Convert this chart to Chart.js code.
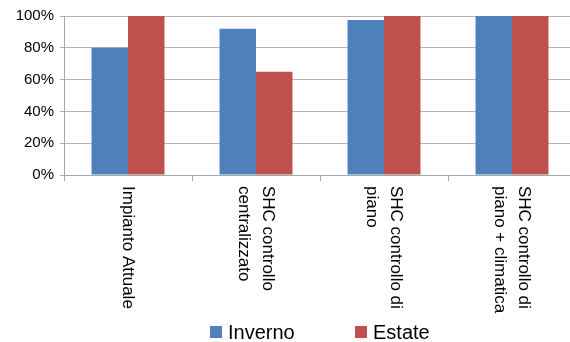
<!DOCTYPE html>
<html>
<head>
<meta charset="utf-8">
<script src="https://cdn.jsdelivr.net/npm/chart.js@4/dist/chart.umd.min.js"></script>
<style>
  html, body { margin: 0; padding: 0; background: #fff; overflow: hidden; }
  #wrap { width: 576px; height: 342px; }
</style>
</head>
<body>
<div id="wrap"><canvas id="c" width="576" height="342"></canvas></div>
<script>
const categories = [
  ["Impianto Attuale"],
  ["SHC controllo", "centralizzato"],
  ["SHC controllo di", "piano"],
  ["SHC controllo di", "piano + climatica"]
];
const seriesNames = ["Inverno", "Estate"];
const inverno = [0.80, 0.92, 0.975, 1.00];
const estate = [1.00, 0.65, 1.00, 1.00];
const yTicks = [0, 0.2, 0.4, 0.6, 0.8, 1.0];
const colors = ["#4F81BD", "#C0504D"];

const FONT = "'Liberation Sans', Arial, sans-serif";

const rotatedLabels = {
  id: 'rotatedLabels',
  afterDraw(chart) {
    const ctx = chart.ctx;
    const xs = chart.scales.x;
    const startY = 186;
    const lh = 24;
    ctx.save();
    ctx.fillStyle = '#000';
    ctx.font = "17px " + FONT;
    ctx.textAlign = 'left';
    ctx.textBaseline = 'middle';
    chart.data.labels.forEach((lines, i) => {
      const x = xs.getPixelForValue(i);
      ctx.save();
      ctx.translate(x, startY);
      ctx.rotate(Math.PI / 2);
      const n = lines.length;
      lines.forEach((ln, j) => {
        const ly = -((n - 1) / 2) * lh + j * lh;
        ctx.fillText(ln, 0, ly);
      });
      ctx.restore();
    });
    ctx.restore();
  }
};

const customLegend = {
  id: 'customLegend',
  afterDraw(chart) {
    const ctx = chart.ctx;
    const items = chart.data.datasets;
    const positions = [210, 355];
    const cy = 332;
    ctx.save();
    ctx.font = "20px " + FONT;
    ctx.textBaseline = 'middle';
    ctx.textAlign = 'left';
    items.forEach((ds, i) => {
      const x = positions[i];
      ctx.fillStyle = ds.backgroundColor;
      ctx.fillRect(x, cy - 6, 12, 12);
      ctx.fillStyle = '#000';
      ctx.fillText(ds.label, x + 18, cy + 1);
    });
    ctx.restore();
  }
};

new Chart(document.getElementById('c'), {
  type: 'bar',
  data: {
    labels: categories,
    datasets: [
      { label: seriesNames[0], data: inverno, backgroundColor: colors[0], categoryPercentage: 0.57, barPercentage: 1.0 },
      { label: seriesNames[1], data: estate, backgroundColor: colors[1], categoryPercentage: 0.57, barPercentage: 1.0 }
    ]
  },
  options: {
    responsive: false,
    animation: false,
    layout: { padding: { top: 16, right: 0, bottom: 0, left: 0 } },
    plugins: { legend: { display: false }, tooltip: { enabled: false } },
    scales: {
      x: {
        afterFit(scale) { scale.height = 167; },
        ticks: { display: false },
        grid: { drawOnChartArea: false, drawTicks: true, tickLength: 6, offset: true, color: '#A6A6A6' },
        border: { color: '#A6A6A6' }
      },
      y: {
        min: 0, max: 1,
        afterFit(scale) { scale.width = 64; },
        ticks: {
          stepSize: 0.1,
          padding: 6,
          color: '#000',
          font: { size: 15, family: FONT },
          callback(v) {
            const r = Math.round(v * 100) / 100;
            return yTicks.some(t => Math.abs(t - r) < 1e-6) ? Math.round(r * 100) + '%' : '';
          }
        },
        grid: { color: '#B3B3B3', tickLength: 4 },
        border: { color: '#A6A6A6' }
      }
    }
  },
  plugins: [rotatedLabels, customLegend]
});
</script>
</body>
</html>
